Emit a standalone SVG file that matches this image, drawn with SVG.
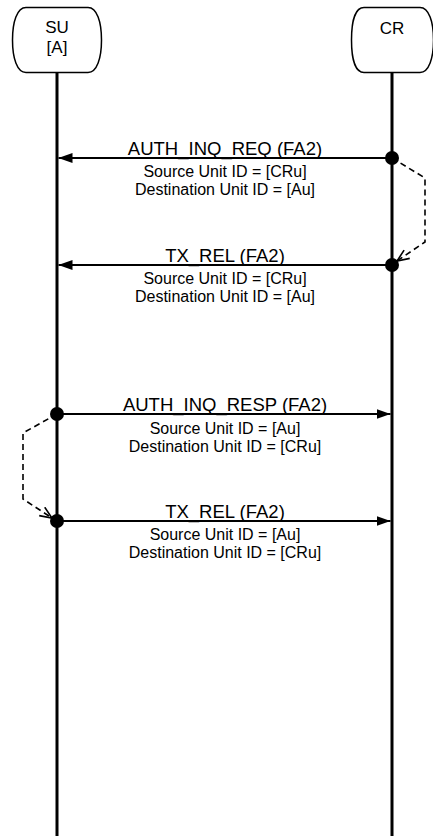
<svg xmlns="http://www.w3.org/2000/svg" width="433" height="836" viewBox="0 0 433 836">
<style>
.box{fill:#fff;stroke:#000;stroke-width:1.5}
.life{stroke:#000;stroke-width:3;fill:none}
.msg{stroke:#000;stroke-width:2;fill:none;marker-end:url(#arr)}
.self{stroke:#000;stroke-width:1.6;fill:none;stroke-dasharray:6 4;marker-end:url(#open)}
.t{font-family:"Liberation Sans",Arial,sans-serif;fill:#000;text-anchor:middle}
.name{font-size:17px}
.lbl{font-size:18.5px}
.sub{font-size:16px}
</style>
<defs>
<marker id="arr" viewBox="0 0 14 10" refX="14" refY="5" markerWidth="14" markerHeight="10" markerUnits="userSpaceOnUse" orient="auto">
<path d="M0,0 L14,5 L0,10 z" fill="#000"/>
</marker>
<marker id="open" viewBox="0 0 14 12" refX="13" refY="6" markerWidth="14" markerHeight="12" markerUnits="userSpaceOnUse" orient="auto">
<path d="M1,1 L13,6 L1,11" fill="none" stroke="#000" stroke-width="1.6" stroke-dasharray="none"/>
</marker>
</defs>
<g id="lifelines">
<line class="life" x1="57" y1="73" x2="57" y2="836"/>
<line class="life" x1="392" y1="73" x2="392" y2="836"/>
</g>
<g id="SU">
<path class="box" d="M26,7.5 H88 C97,7.5 101.5,22 101.5,40 C101.5,58 97,72.5 88,72.5 H26 C17,72.5 12.5,58 12.5,40 C12.5,22 17,7.5 26,7.5 Z"/>
<text class="t name" x="57" y="33">SU</text>
<text class="t name" x="57" y="53">[A]</text>
</g>
<g id="CR">
<path class="box" d="M364,7.5 H420 C429,7.5 433.5,22 433.5,40 C433.5,58 429,72.5 420,72.5 H364 C355,72.5 351.5,58 351.5,40 C351.5,22 355,7.5 364,7.5 Z"/>
<text class="t name" x="392" y="34">CR</text>
</g>
<g id="connectors">
<path class="msg" d="M392,158 L58.5,158"/>
<path class="msg" d="M392,265 L58.5,265"/>
<path class="msg" d="M57,414 L390.5,414"/>
<path class="msg" d="M57,521 L390.5,521"/>
<path class="self" d="M392,158 L425,178 L425,242 L397,261"/>
<path class="self" d="M57,414 L23,433 L23,499 L52,518"/>
<circle cx="392" cy="158" r="7" fill="#000"/>
<circle cx="392" cy="265" r="7" fill="#000"/>
<circle cx="57" cy="414" r="7" fill="#000"/>
<circle cx="57" cy="521" r="7" fill="#000"/>
</g>
<g id="labels">
<text class="t lbl" x="225" y="155">AUTH_INQ_REQ (FA2)</text>
<text class="t sub" x="225" y="177">Source Unit ID = [CRu]</text>
<text class="t sub" x="225" y="195">Destination Unit ID = [Au]</text>
<text class="t lbl" x="225" y="262">TX_REL (FA2)</text>
<text class="t sub" x="225" y="284">Source Unit ID = [CRu]</text>
<text class="t sub" x="225" y="302">Destination Unit ID = [Au]</text>
<text class="t lbl" x="225" y="411">AUTH_INQ_RESP (FA2)</text>
<text class="t sub" x="225" y="434">Source Unit ID = [Au]</text>
<text class="t sub" x="225" y="452">Destination Unit ID = [CRu]</text>
<text class="t lbl" x="225" y="518">TX_REL (FA2)</text>
<text class="t sub" x="225" y="540">Source Unit ID = [Au]</text>
<text class="t sub" x="225" y="558">Destination Unit ID = [CRu]</text>
</g>
</svg>
